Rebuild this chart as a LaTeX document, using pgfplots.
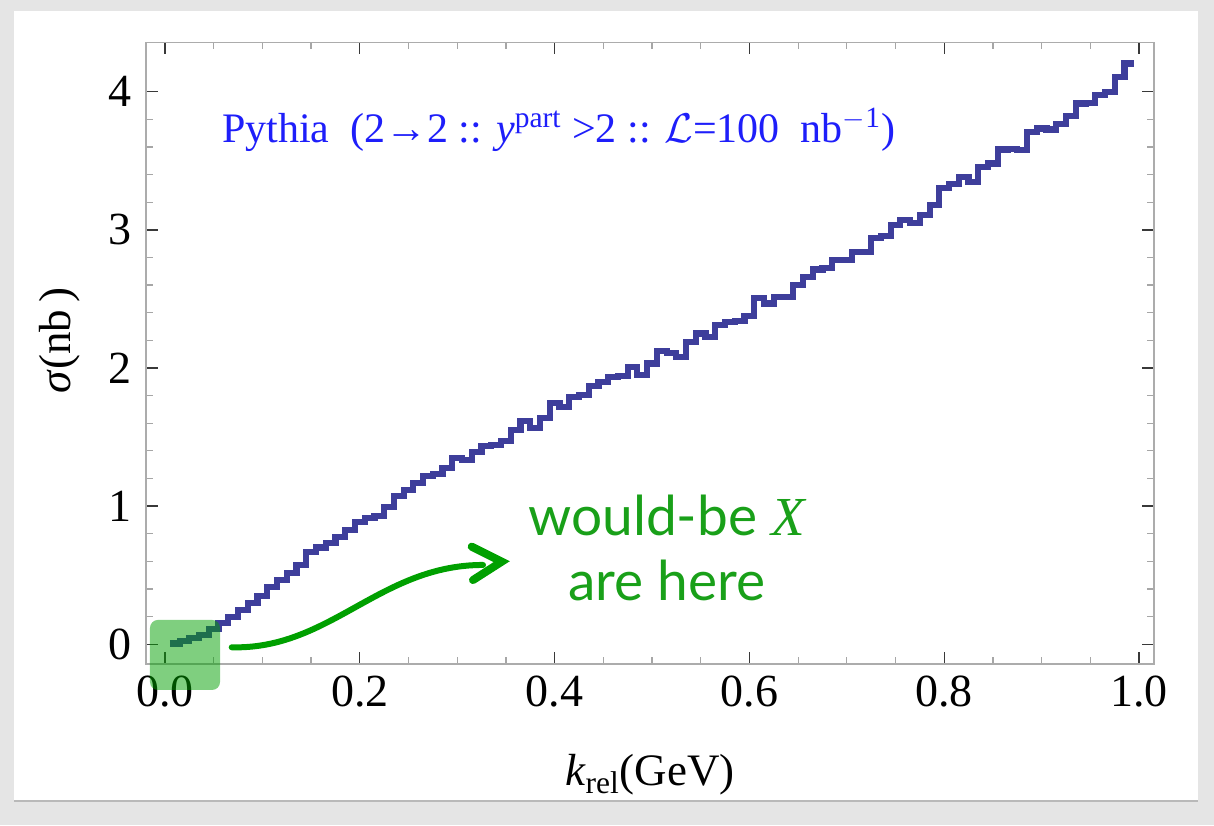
\documentclass[border=0pt]{standalone}
\usepackage{fontspec}
\setmainfont{Liberation Serif}
\newfontfamily\annfont{Lato}
\usepackage{pgfplots}
\usepackage{pgfplotstable}
\pgfplotsset{compat=1.18}
\definecolor{histblue}{RGB}{62,62,155}
\definecolor{titleblue}{RGB}{30,30,250}
\definecolor{anngreen}{RGB}{0,160,0}
\definecolor{txtgreen}{RGB}{25,160,25}

\pgfplotstableread{
x y
0.005 0.005
0.015 0.024
0.025 0.043
0.035 0.067
0.045 0.108
0.055 0.152
0.065 0.195
0.075 0.248
0.085 0.301
0.095 0.349
0.105 0.417
0.115 0.465
0.125 0.513
0.135 0.573
0.145 0.670
0.155 0.700
0.165 0.735
0.175 0.779
0.185 0.827
0.195 0.887
0.205 0.912
0.215 0.928
0.225 0.991
0.235 1.073
0.245 1.117
0.255 1.165
0.265 1.218
0.275 1.230
0.285 1.274
0.295 1.346
0.305 1.334
0.315 1.394
0.325 1.435
0.335 1.445
0.345 1.473
0.355 1.551
0.365 1.618
0.375 1.563
0.385 1.635
0.395 1.744
0.405 1.719
0.415 1.792
0.425 1.804
0.435 1.869
0.445 1.900
0.455 1.936
0.465 1.941
0.475 2.009
0.485 1.949
0.495 2.033
0.505 2.124
0.515 2.106
0.525 2.081
0.535 2.190
0.545 2.250
0.555 2.226
0.565 2.310
0.575 2.334
0.585 2.342
0.595 2.376
0.605 2.504
0.615 2.467
0.625 2.511
0.635 2.511
0.645 2.600
0.655 2.660
0.665 2.713
0.675 2.725
0.685 2.781
0.695 2.781
0.705 2.841
0.715 2.841
0.725 2.938
0.735 2.954
0.745 3.034
0.755 3.070
0.765 3.051
0.775 3.107
0.785 3.179
0.795 3.300
0.805 3.331
0.815 3.384
0.825 3.347
0.835 3.452
0.845 3.480
0.855 3.582
0.865 3.584
0.875 3.577
0.885 3.709
0.895 3.734
0.905 3.726
0.915 3.765
0.925 3.823
0.935 3.915
0.945 3.919
0.955 3.975
0.965 3.999
0.975 4.107
0.985 4.204
0.995 4.204
}\histdata

\begin{document}
\begin{tikzpicture}
\fill[gray!20] (0,0) rectangle (607pt,412.5pt);
\fill[white] (7pt,12pt) rectangle (599pt,407pt);
\draw[gray!55, line width=1.2pt] (7pt,12pt) -- (599pt,12pt);
\begin{axis}[
  at={(73pt,80.5pt)}, anchor=south west,
  scale only axis, width=504pt, height=310.75pt,
  xmin=-0.0195, xmax=1.0154, ymin=-0.143, ymax=4.356,
  xtick={0,0.2,0.4,0.6,0.8,1.0}, minor x tick num=3,
  ytick={0,1,2,3,4}, minor y tick num=4,
  tick align=inside,
  major tick length=6pt, minor tick length=3.5pt,
  axis line style={draw=gray!65, line width=0.8pt},
  major tick style={line width=0.7pt, draw=gray!45!black},
  minor tick style={line width=0.6pt, draw=gray!70},
  xticklabel style={/pgf/number format/fixed, /pgf/number format/fixed zerofill, /pgf/number format/precision=1, yshift=-2.5pt},
  /pgf/number format/assume math mode=true,
  tick label style={font=\fontsize{23}{25}\selectfont},
  yticklabel style={xshift=-3.5pt},
  xlabel={\textit{k}\textsubscript{rel}(GeV)},
  ylabel={\textit{σ}(nb\,)},
  label style={font=\fontsize{22.5}{25}\selectfont},
  xlabel style={at={(axis description cs:0.5,-0.1786)}, anchor=center},
  ylabel style={at={(axis description cs:-0.0853,0.521)}, anchor=center},
  clip=false,
]
\addplot[const plot, histblue, line width=3.1pt, line join=miter] table[x=x,y=y]{\histdata};
\fill[anngreen, opacity=0.5, rounded corners=4pt] (axis cs:-0.0154,-0.331) rectangle (axis cs:0.0565,0.176);
\draw[anngreen, line width=3pt, line cap=round] (axis cs:0.0685,-0.022) .. controls (axis cs:0.1694,-0.041) and (axis cs:0.2207,0.574) .. (axis cs:0.3265,0.574);
\draw[anngreen, line width=4pt, line cap=round, line join=miter] (axis cs:0.3149,0.7065) -- (axis cs:0.3457,0.5978) -- (axis cs:0.3162,0.4647);
\node[txtgreen, align=center, font=\annfont\fontsize{27.5}{32.5}\selectfont] at (axis cs:0.515,0.70) {would-be {\rmfamily\itshape X}\\are here};
\node[titleblue, anchor=west, font=\fontsize{21}{23}\selectfont] at (axis description cs:0.0685,0.859) {Pythia\ \ (2→2 :: \textit{y}\textsuperscript{part} >2 :: $\mathcal{L}$=100\ \ nb\textsuperscript{$-$1})};
\end{axis}
\end{tikzpicture}
\end{document}
